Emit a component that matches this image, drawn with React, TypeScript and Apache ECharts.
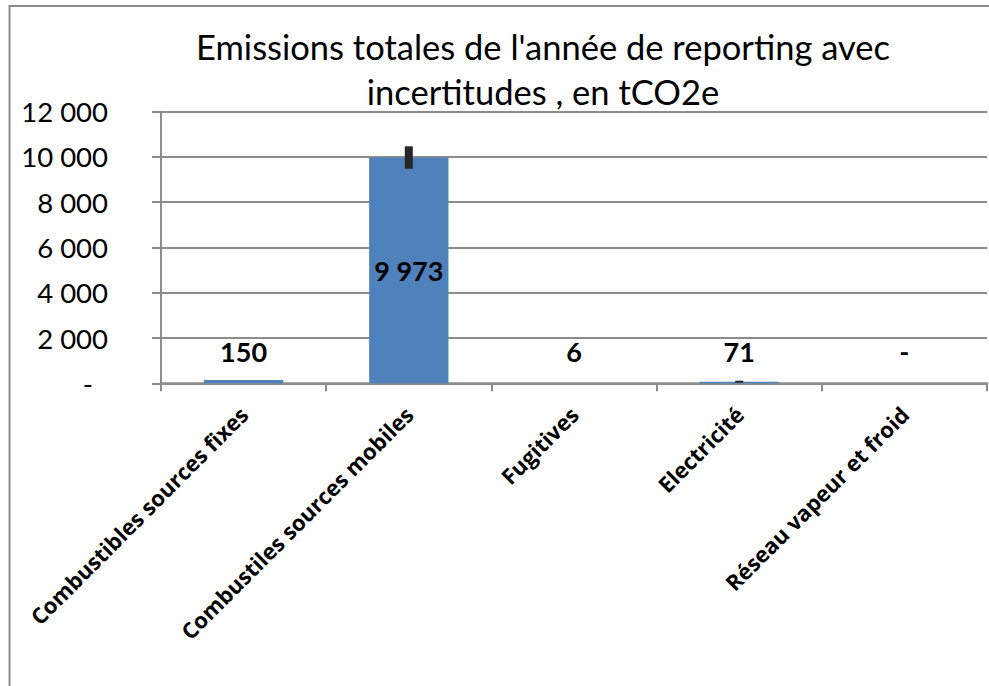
import React, { useEffect, useRef } from "react";
import * as echarts from "echarts";

const titleLines = ["Emissions totales de l'année de reporting avec", "incertitudes , en tCO2e"];
const categories = [
  "Combustibles sources fixes",
  "Combustiles sources mobiles",
  "Fugitives",
  "Electricité",
  "Réseau vapeur et froid",
];
const emissions = [150, 9973, 6, 71, 0];
const uncertaintyLow: (number | null)[] = [null, 9480, null, 35, null];
const uncertaintyHigh: (number | null)[] = [null, 10470, null, 107, null];
const yMin = 0;
const yMax = 12000;
const yStep = 2000;

const fmt = (v: number) => String(Math.round(v)).replace(/\B(?=(\d{3})+(?!\d))/g, " ");

export default function App() {
  const ref = useRef<HTMLDivElement>(null);
  useEffect(() => {
    if (!ref.current) return;
    const chart = echarts.init(ref.current, null, { renderer: "svg" });
    const gray = "#8c8c8c";
    const errData = categories
      .map((_, i) => [i, uncertaintyLow[i], uncertaintyHigh[i]])
      .filter((d) => d[1] != null && d[2] != null);
    chart.setOption({
      animation: false,
      backgroundColor: "#ffffff",
      title: {
        text: titleLines.join("\n"),
        left: 543,
        textAlign: "center",
        top: 24,
        padding: 0,
        textStyle: {
          fontFamily: "Lato",
          fontSize: 34.5,
          fontWeight: "normal",
          color: "#000",
          lineHeight: 45,
        },
      },
      graphic: [
        {
          type: "rect",
          shape: { x: 9.5, y: 6, width: 1000, height: 700 },
          style: { fill: "none", stroke: gray, lineWidth: 2 },
          silent: true,
        },
      ],
      grid: { left: 161, right: 2, top: 111.7, bottom: 302.7, containLabel: false },
      xAxis: {
        type: "category",
        data: categories,
        axisLine: { lineStyle: { color: gray, width: 2.5 } },
        axisTick: { show: true, length: 8, lineStyle: { color: gray, width: 2 } },
        axisLabel: {
          rotate: 45,
          interval: 0,
          margin: 27,
          fontFamily: "Open Sans",
          fontWeight: "bold",
          fontSize: 22,
          color: "#000",
        },
      },
      yAxis: {
        type: "value",
        min: yMin,
        max: yMax,
        interval: yStep,
        axisLine: { show: true, lineStyle: { color: gray, width: 2 } },
        axisTick: { show: true, length: 9, lineStyle: { color: gray, width: 2 } },
        splitLine: { lineStyle: { color: gray, width: 2 } },
        axisLabel: {
          margin: 53,
          fontFamily: "Lato",
          fontSize: 27.5,
          color: "#000",
          formatter: (v: number) => (v === 0 ? "{d|-}" : fmt(v)),
          rich: {
            d: { fontFamily: "Lato", fontSize: 27.5, color: "#000", padding: [0, 15, 0, 0] },
          },
        },
      },
      series: [
        {
          type: "bar",
          barWidth: "48%",
          itemStyle: { color: "#4f81bd" },
          data: emissions.map((v) => ({
            value: v,
            label:
              v > 1000
                ? { position: "inside" }
                : { position: "insideBottom", distance: 18 },
          })),
          label: {
            show: true,
            fontFamily: "Lato",
            fontWeight: "bold",
            fontSize: 27,
            color: "#000",
            formatter: (p: any) => (p.value === 0 ? "-" : fmt(p.value)),
          },
          z: 2,
        },
        {
          type: "custom",
          z: 3,
          data: errData,
          renderItem: (params: any, api: any) => {
            const i = api.value(0);
            const top = api.coord([i, api.value(2)]);
            const bot = api.coord([i, api.value(1)]);
            let h = bot[1] - top[1];
            let y = top[1];
            if (h < 2) {
              y = (top[1] + bot[1]) / 2 - 1;
              h = 2;
            }
            return {
              type: "rect",
              shape: { x: top[0] - 4, y, width: 8, height: h },
              style: { fill: "#262626" },
            };
          },
        },
      ],
    });
    return () => chart.dispose();
  }, []);
  return (
    <div
      ref={ref}
      style={{ position: "fixed", left: 0, top: 0, width: 989, height: 686, background: "#fff" }}
    />
  );
}
